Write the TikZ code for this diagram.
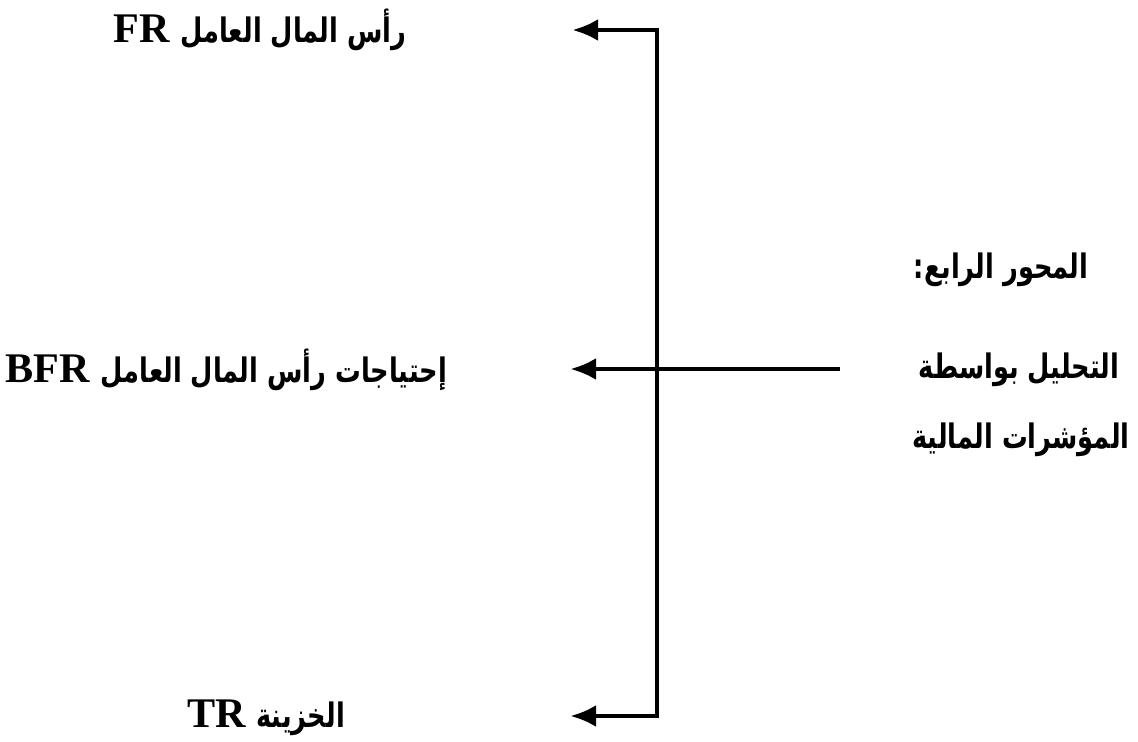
\documentclass[tikz,border=0pt]{standalone}
\usepackage{fontspec}
\setmainfont{Liberation Serif}
\newfontfamily\arabicfont[Script=Arabic,Scale=0.8,FakeStretch=0.76]{DejaVu Sans}
\TeXXeTstate=1
\usetikzlibrary{arrows.meta}
\newcommand{\ar}[1]{{\arabicfont\beginR #1\endR}}

\begin{document}
\begin{tikzpicture}[x=0.01cm,y=-0.01cm,>={Latex[length=2.6mm,width=2.2mm]},
  lbl/.style={font=\fontsize{12}{15}\selectfont\bfseries,inner sep=0pt},
  conn/.style={line width=1.4pt}]
 \useasboundingbox (0,0) rectangle (1138,742);
 % labels on the left
 \node[lbl] (fr) at (260,30) {FR \ar{رأس المال العامل}};
 \node[lbl,anchor=west] (bfr) at (5,370) {BFR \ar{إحتياجات رأس المال العامل}};
 \node[lbl] (tr) at (266,718) {TR \ar{الخزينة}};
 % the fourth axis
 \node[lbl] (axis) at (1001,270) {\ar{المحور الرابع:}};
 \node[lbl] (anl) at (1019,370) {\ar{التحليل بواسطة}};
 \node[lbl] (ind) at (1021,440) {\ar{المؤشرات المالية}};
 % brace of arrows
 \coordinate (top) at (657,30);
 \coordinate (bot) at (657,716);
 \coordinate (src) at (840,369);
 \coordinate (frtip) at (572,30);
 \coordinate (bfrtip) at (570,369);
 \coordinate (trtip) at (570,716);
 \draw[conn,<->] (frtip) -- (top) -- (bot) -- (trtip);
 \draw[conn,->] (src) -- (bfrtip);
\end{tikzpicture}
\end{document}
